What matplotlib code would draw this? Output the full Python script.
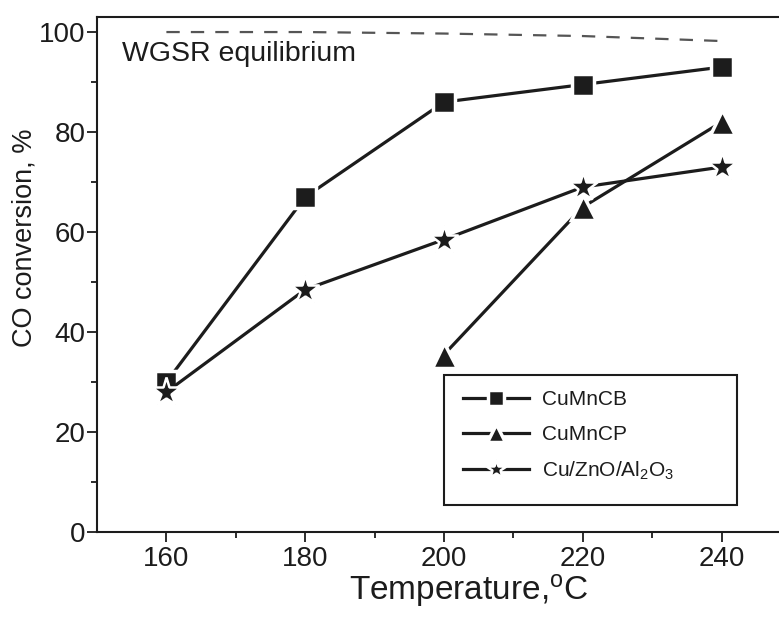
import numpy as np
import matplotlib
matplotlib.use('Agg')
import matplotlib.pyplot as plt
from matplotlib.patches import Rectangle

plt.rcParams['font.family'] = ['Liberation Sans', 'DejaVu Sans']
plt.rcParams['mathtext.fontset'] = 'custom'
plt.rcParams['mathtext.rm'] = 'Liberation Sans'
plt.rcParams['mathtext.it'] = 'Liberation Sans:italic'

# data
temps = [160, 180, 200, 220, 240]
cumncb = [30, 67, 86, 89.5, 93]
cumncp_t = [200, 220, 240]
cumncp = [35.5, 65, 82]
cuzno = [28, 48.5, 58.5, 69, 73]
equilibrium = [100, 100, 99.7, 99.2, 98.2]

ink = '#1c1c1c'

fig = plt.figure(figsize=(7.79, 6.2), dpi=100)
ax = fig.add_axes([0.1245, 0.1419, 0.891, 0.8306])

ax.plot(temps, equilibrium, color='#555555', lw=1.6, dashes=(6, 5))

ax.plot(temps, cumncb, color=ink, lw=2.3, marker='s', ms=15.5,
        mfc=ink, mec='white', mew=2.5, label='CuMnCB')
ax.plot(cumncp_t, cumncp, color=ink, lw=2.3, marker='^', ms=18,
        mfc=ink, mec='white', mew=2.5, label='CuMnCP')
ax.plot(temps, cuzno, color=ink, lw=2.3, marker='*', ms=21,
        mfc=ink, mec='white', mew=1.8, label='Cu/ZnO/Al$_2$O$_3$')

ax.text(153.6, 95.6, 'WGSR equilibrium', fontsize=20.5, color=ink,
        va='center', ha='left')

ax.set_xlim(150, 250)
ax.set_ylim(0, 103)
ax.set_xticks([160, 180, 200, 220, 240])
ax.set_xticks([170, 190, 210, 230], minor=True)
ax.set_yticks([0, 20, 40, 60, 80, 100])
ax.set_yticks([10, 30, 50, 70, 90], minor=True)
ax.tick_params(which='both', direction='out', colors=ink, width=1.3,
               labelsize=20, labelcolor=ink)
ax.tick_params(which='major', length=7, pad=3)
ax.tick_params(axis='y', which='major', pad=1)
ax.tick_params(which='minor', length=4)
for s in ax.spines.values():
    s.set_linewidth(1.5)
    s.set_color(ink)
ax.spines['right'].set_visible(False)

ax.set_xlabel('Temperature,$^{\\rm o}$C', fontsize=24, color=ink)
ax.xaxis.set_label_coords(0.535, -0.113)
ax.xaxis.label.set_va('center')
ax.set_ylabel('CO conversion, %', fontsize=19.5, color=ink)
ax.yaxis.set_label_coords(-0.104, 0.571)
ax.yaxis.label.set_va('center')

# legend box drawn separately (wide right margin in the original)
ax.add_patch(Rectangle((0.5, 0.052), 0.422, 0.253, transform=ax.transAxes,
                       fill=False, edgecolor=ink, lw=1.5, zorder=5))
leg = ax.legend(loc='upper left', bbox_to_anchor=(0.527, 0.275),
                fontsize=15, handlelength=3.2, markerscale=0.72,
                frameon=False, borderpad=0, labelspacing=0.75,
                handletextpad=0.6, borderaxespad=0)
for t in leg.get_texts():
    t.set_color(ink)

fig.savefig('out.png', dpi=100)
